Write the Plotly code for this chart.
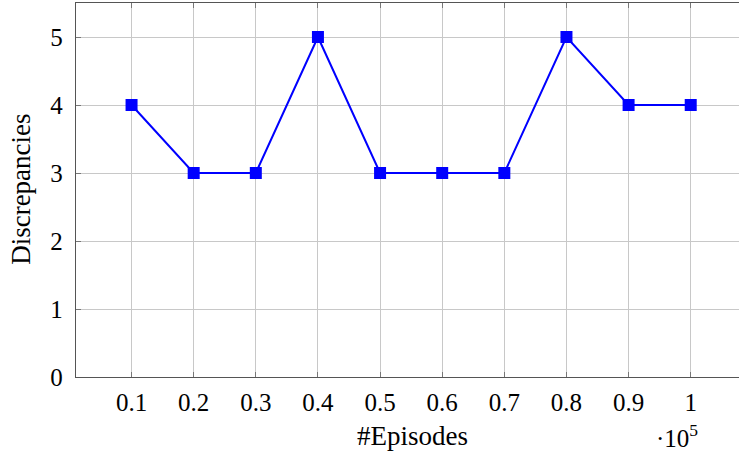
import plotly.graph_objects as go

episodes = [0.1, 0.2, 0.3, 0.4, 0.5, 0.6, 0.7, 0.8, 0.9, 1.0]
discrepancies = [4, 3, 3, 5, 3, 3, 3, 5, 4, 4]
x_ticks = [0.1, 0.2, 0.3, 0.4, 0.5, 0.6, 0.7, 0.8, 0.9, 1.0]
x_ticklabels = ["0.1", "0.2", "0.3", "0.4", "0.5", "0.6", "0.7", "0.8", "0.9", "1"]
y_ticks = [0, 1, 2, 3, 4, 5]

FONT = "Liberation Serif"

fig = go.Figure()
fig.add_trace(go.Scatter(
    x=episodes, y=discrepancies, mode="lines+markers",
    line=dict(color="#0000ff", width=2),
    marker=dict(symbol="square", size=12, color="#0000ff"),
    showlegend=False,
))

fig.update_layout(
    width=739, height=453,
    margin=dict(l=76, r=0, t=3, b=76),
    paper_bgcolor="white", plot_bgcolor="white",
    font=dict(family=FONT, size=25, color="black"),
    xaxis=dict(
        range=[0.0106, 1.0777],
        tickvals=x_ticks, ticktext=x_ticklabels,
        showgrid=True, gridcolor="#c8c8c8", gridwidth=1,
        showline=True, linecolor="#555555", linewidth=1.3, mirror="ticks",
        ticks="inside", ticklen=5, tickcolor="#777777",
        zeroline=False, automargin=False, ticklabelstandoff=3,
    ),
    yaxis=dict(
        range=[0, 5.5],
        tickvals=y_ticks,
        showgrid=True, gridcolor="#c8c8c8", gridwidth=1,
        showline=True, linecolor="#555555", linewidth=1.3,
        ticks="inside", ticklen=5, tickcolor="#777777",
        zeroline=False, automargin=False, ticklabelstandoff=7,
    ),
    annotations=[
        dict(text="#Episodes", x=0.507, y=-0.159, xref="paper", yref="paper",
             xanchor="center", yanchor="middle", showarrow=False, font=dict(size=27)),
        dict(text="Discrepancies", x=-0.083, y=0.503, xref="paper", yref="paper",
             xanchor="center", yanchor="middle", textangle=-90, showarrow=False,
             font=dict(size=27)),
        dict(text="·10<sup>5</sup>", x=0.941, y=-0.205, xref="paper", yref="paper",
             xanchor="right", yanchor="bottom", showarrow=False, font=dict(size=25)),
    ],
)

fig.write_html("out.html", config={"displayModeBar": False},
               post_script="document.body.style.margin='0';document.body.style.overflow='hidden';")
